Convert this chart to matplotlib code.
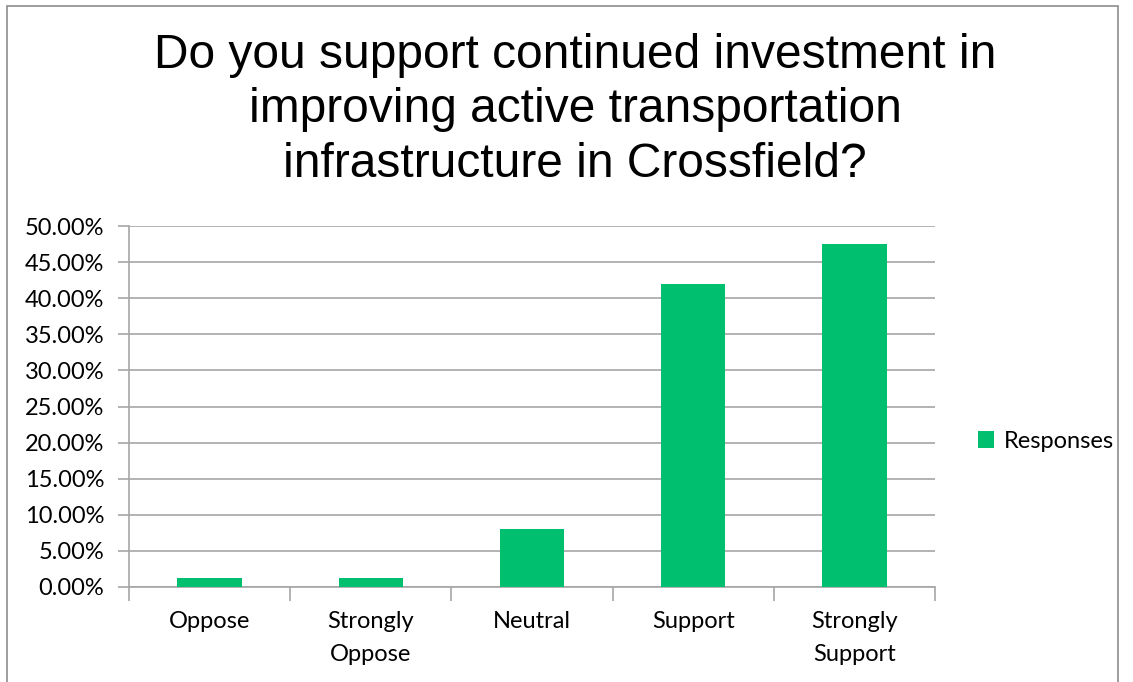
import matplotlib.pyplot as plt
from matplotlib.patches import Rectangle
from matplotlib.ticker import PercentFormatter

categories = ["Oppose", "Strongly\nOppose", "Neutral", "Support", "Strongly\nSupport"]
responses = [1.25, 1.25, 8.03, 41.97, 47.5]
yticks = [0, 5, 10, 15, 20, 25, 30, 35, 40, 45, 50]

title = "Do you support continued investment in\nimproving active transportation\ninfrastructure in Crossfield?"

green = "#00BF6F"
grid = "#A6A6A6"
label_font = "Lato"
label_size = 17

fig = plt.figure(figsize=(11.33, 6.82), dpi=100)
ax = fig.add_axes([0.1139, 0.1393, 0.7113, 0.5293])

# outer chart border (bottom is cut off in the source)
fig.patches.append(Rectangle((7 / 1133, -0.05), (1118 - 7) / 1133, 1.05 - 6 / 682,
                             transform=fig.transFigure, fill=False,
                             edgecolor="#8C8C8C", linewidth=1.2))

x = range(len(categories))
ax.bar(x, responses, width=0.4, color=green, label="Responses", zorder=3)

ax.set_xlim(-0.5, len(categories) - 0.5)
ax.set_ylim(0, 50)
ax.set_yticks(yticks)
ax.yaxis.set_major_formatter(PercentFormatter(decimals=2))
ax.grid(axis="y", color=grid, linewidth=1.2, zorder=0)

ax.set_xticks(list(x))
ax.set_xticklabels(categories, family=label_font, fontsize=label_size, linespacing=1.75)
ax.set_xticks([i - 0.5 for i in range(len(categories) + 1)], minor=True)
ax.tick_params(axis="x", which="major", length=0, pad=17)
ax.tick_params(axis="x", which="minor", length=10, color=grid, width=1.2)
ax.tick_params(axis="y", length=8, color=grid, width=1.2, pad=10)
for lab in ax.get_yticklabels():
    lab.set_family(label_font)
    lab.set_fontsize(label_size)

for side in ["top", "right"]:
    ax.spines[side].set_visible(False)
for side in ["left", "bottom"]:
    ax.spines[side].set_color(grid)
    ax.spines[side].set_linewidth(1.2)

fig.text(575 / 1133, 1 - 110 / 682, title, ha="center", va="center",
         family="Liberation Sans", fontsize=34.5, linespacing=1.27)

ax.legend(loc="center left", bbox_to_anchor=(1.053, 0.404), frameon=False,
          prop={"family": label_font, "size": label_size}, handlelength=0.7,
          handleheight=0.7, handletextpad=0.4, borderpad=0, borderaxespad=0)

fig.savefig("out.png", dpi=100)
